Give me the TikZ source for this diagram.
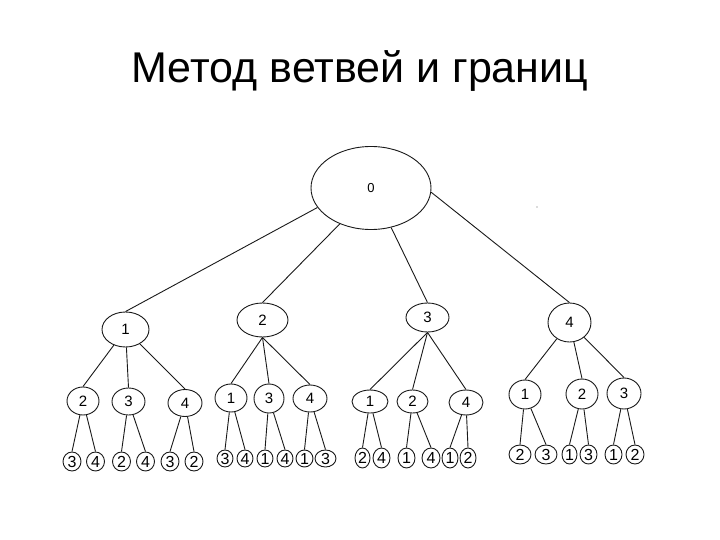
\documentclass[tikz,border=0pt]{standalone}
\usepackage{fontspec}
\setmainfont{Liberation Sans}
\usetikzlibrary{shapes.geometric}
\tikzset{
  el/.style={draw=black!90, line width=0.9pt, ellipse, inner sep=0pt, font=\fontsize{15}{16}\selectfont},
  lf/.style={el, minimum width=18pt, minimum height=19pt, font=\fontsize{16}{17}\selectfont},
  edge/.style={draw=black!90, line width=0.9pt}
}
\begin{document}
\begin{tikzpicture}[x=1pt,y=-1pt]
\useasboundingbox (0,0) rectangle (720,540);
\node[anchor=base, font=\fontsize{43}{48}\selectfont] (title) at (360,82.7) {Метод ветвей и границ};

% root
\node[el, minimum width=120pt, minimum height=83pt, font=\fontsize{13}{14}\selectfont] (r) at (371,188) {0};
% level 1
\node[el, minimum width=47pt, minimum height=35pt] (n1) at (125.5,329.5) {1};
\node[el, minimum width=51pt, minimum height=34pt] (n2) at (262.5,320) {2};
\node[el, minimum width=43pt, minimum height=29pt] (n3) at (427.5,317.5) {3};
\node[el, minimum width=43pt, minimum height=39pt] (n4) at (569.5,322.5) {4};
% level 2
\node[el, minimum width=32pt, minimum height=28pt] (n11) at (83,401) {2};
\node[el, minimum width=33pt, minimum height=27pt] (n12) at (128.5,401.5) {3};
\node[el, minimum width=34pt, minimum height=27pt] (n13) at (185,403) {4};
\node[el, minimum width=32pt, minimum height=28pt] (n21) at (231,398) {1};
\node[el, minimum width=30pt, minimum height=29pt] (n22) at (269,398.5) {3};
\node[el, minimum width=34pt, minimum height=27pt] (n23) at (310,398.5) {4};
\node[el, minimum width=36pt, minimum height=23pt] (n31) at (370,401.5) {1};
\node[el, minimum width=31pt, minimum height=23pt] (n32) at (412.5,401.5) {2};
\node[el, minimum width=34pt, minimum height=25pt] (n33) at (466,402.5) {4};
\node[el, minimum width=32pt, minimum height=29pt] (n41) at (525,394.5) {1};
\node[el, minimum width=32pt, minimum height=30pt] (n42) at (582,394) {2};
\node[el, minimum width=34pt, minimum height=31pt] (n43) at (624,393.5) {3};
% leaves
\node[lf] (l111) at (72,461.5) {3};
\node[lf] (l112) at (95.5,461.5) {4};
\node[lf] (l121) at (121.5,461.5) {2};
\node[lf] (l122) at (145.5,461.5) {4};
\node[lf] (l131) at (170,461.5) {3};
\node[lf] (l132) at (194,461.5) {2};
\node[lf, minimum width=16pt, minimum height=17pt] (l211) at (225,458.5) {3};
\node[lf, minimum width=16pt, minimum height=17pt] (l212) at (245,458.5) {4};
\node[lf, minimum width=16pt, minimum height=17pt] (l221) at (265,458.5) {1};
\node[lf, minimum width=16pt, minimum height=17pt] (l222) at (285,458.5) {4};
\node[lf, minimum width=17pt, minimum height=17pt] (l231) at (304.5,458.5) {1};
\node[lf, minimum width=21pt, minimum height=17pt] (l232) at (325.5,458.5) {3};
\node[lf, minimum width=15pt, minimum height=20pt] (l311) at (362.5,458) {2};
\node[lf, minimum width=17pt, minimum height=20pt] (l312) at (381.5,458) {4};
\node[lf, minimum width=17pt, minimum height=20pt] (l321) at (406.5,458) {1};
\node[lf, minimum width=18pt, minimum height=20pt] (l322) at (431,458) {4};
\node[lf, minimum width=16pt, minimum height=20pt] (l331) at (450,458) {1};
\node[lf, minimum width=16pt, minimum height=20pt] (l332) at (468,458) {2};
\node[lf, minimum width=22pt] (l411) at (520,454.5) {2};
\node[lf, minimum width=22pt] (l412) at (546,454.5) {3};
\node[lf, minimum width=15pt] (l421) at (569.5,454.5) {1};
\node[lf, minimum width=17pt] (l422) at (588.5,454.5) {3};
\node[lf, minimum width=17pt] (l431) at (613.5,454.5) {1};
\node[lf, minimum width=18pt] (l432) at (635,454.5) {2};

% stray dot
\fill[black!60] (537,207) circle (0.6pt);

% edges root
\draw[edge] (r.200) -- (n1.north);
\draw[edge] (r.229) -- (n2.north);
\draw[edge] (r.297) -- (n3.north);
\draw[edge] (r.356) -- (n4.north);
% level1 -> level2
\foreach \c in {n11,n12,n13} \draw[edge] (n1) -- (\c.north);
\foreach \c in {n21,n22,n23} \draw[edge] (n2.south) -- (\c.north);
\foreach \c in {n31,n32,n33} \draw[edge] (n3.south) -- (\c.north);
\foreach \c in {n41,n42,n43} \draw[edge] (n4) -- (\c.north);
% level2 -> leaves
\foreach \p in {11,12,13,21,22,23,31,32,33,41,42,43} {
  \draw[edge] (n\p) -- (l\p1.north);
  \draw[edge] (n\p) -- (l\p2.north);
}
\end{tikzpicture}
\end{document}
